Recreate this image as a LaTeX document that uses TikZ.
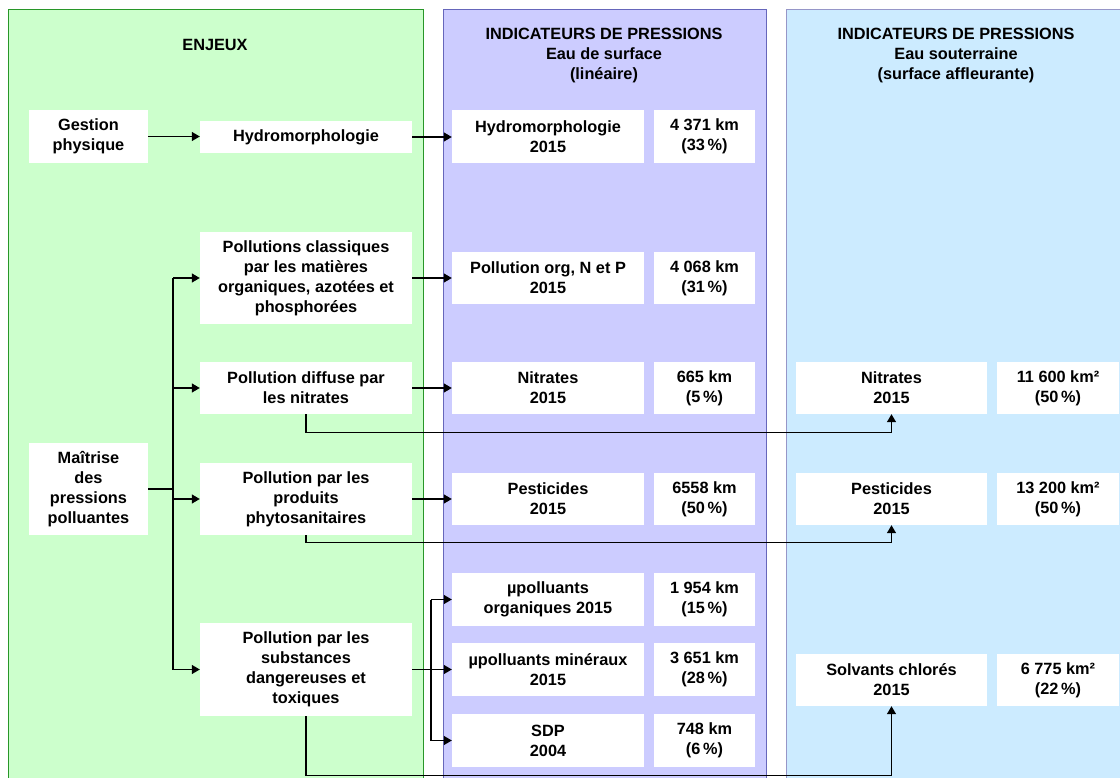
\documentclass[tikz,border=0pt]{standalone}
\usepackage{fontspec}
\setmainfont{Liberation Sans}
\usetikzlibrary{arrows.meta}
\definecolor{gfill}{RGB}{204,255,204}
\definecolor{gline}{RGB}{40,150,40}
\definecolor{pfill}{RGB}{204,204,255}
\definecolor{pline}{RGB}{102,102,187}
\definecolor{bfill}{RGB}{204,235,255}
\definecolor{bline}{RGB}{150,150,200}
\begin{document}
\begin{tikzpicture}[x=1pt,y=-1pt,
  font=\bfseries\fontsize{16.3}{20}\selectfont,
  box/.style 2 args={fill=white,draw=none,inner sep=0pt,align=center,minimum width=#1,minimum height=#2},
  panelG/.style={fill=gfill,draw=gline,line width=1pt},
  panelP/.style={fill=pfill,draw=pline,line width=1pt},
  panelB/.style={fill=bfill,draw=bline,line width=1pt},
  conn/.style={draw=black,line width=1.3pt},
  arr/.style={conn,-{Triangle[length=8pt,width=9pt]}},
  hdr/.style={align=center,inner sep=0pt}]
\useasboundingbox (0,0) rectangle (1120,778);
\clip (0,0) rectangle (1120,778);
\fill[white] (0,0) rectangle (1120,778);
% panels
\path[panelG] (8,10) rectangle (423,800);
\path[panelP] (443,10) rectangle (766,800);
\path[panelB] (786,10) rectangle (1140,800);
% headers
\node[hdr] (hE) at (215,45) {ENJEUX};
\node[hdr] (hP) at (604,56) {INDICATEURS DE PRESSIONS\\Eau de surface\\(linéaire)};
\node[hdr] (hB) at (956,56) {INDICATEURS DE PRESSIONS\\Eau souterraine\\(surface affleurante)};
% enjeux column
\node[box={119}{53}] (gest) at (88.5,136.5) {Gestion\\physique};
\node[box={119}{92}] (mait) at (88.5,489) {Maîtrise\\des\\pressions\\polluantes};
\node[box={212}{32}] (hydE) at (306,137) {Hydromorphologie};
\node[box={212}{92}] (class) at (306,278) {Pollutions classiques\\par les matières\\organiques, azotées et\\phosphorées};
\node[box={212}{52}] (diff) at (306,388) {Pollution diffuse par\\les nitrates};
\node[box={212}{72}] (prod) at (306,499) {Pollution par les\\produits\\phytosanitaires};
\node[box={212}{93}] (subst) at (306,669.5) {Pollution par les\\substances\\dangereuses et\\toxiques};
% surface water column
\node[box={192}{53}] (hydS) at (548,136.5) {Hydromorphologie\\2015};
\node[box={101}{53}] (hydV) at (704.5,136.5) {4 371 km\\(33\,\%)};
\node[box={192}{52}] (org) at (548,278) {Pollution org, N et P\\2015};
\node[box={101}{52}] (orgV) at (704.5,278) {4 068 km\\(31\,\%)};
\node[box={192}{52}] (nitS) at (548,388) {Nitrates\\2015};
\node[box={101}{52}] (nitV) at (704.5,388) {665 km\\(5\,\%)};
\node[box={192}{52}] (pestS) at (548,499) {Pesticides\\2015};
\node[box={101}{52}] (pestV) at (704.5,499) {6558 km\\(50\,\%)};
\node[box={192}{53}] (mOrg) at (548,599.5) {µpolluants\\organiques 2015};
\node[box={101}{53}] (mOrgV) at (704.5,599.5) {1 954 km\\(15\,\%)};
\node[box={192}{53}] (mMin) at (548,669.5) {µpolluants minéraux\\2015};
\node[box={101}{53}] (mMinV) at (704.5,669.5) {3 651 km\\(28\,\%)};
\node[box={192}{53}] (sdp) at (548,740.5) {SDP\\2004};
\node[box={101}{53}] (sdpV) at (704.5,740.5) {748 km\\(6\,\%)};
% ground water column
\node[box={191}{52}] (nitG) at (891.5,388) {Nitrates\\2015};
\node[box={122}{52}] (nitGV) at (1058,388) {11 600 km²\\(50\,\%)};
\node[box={191}{52}] (pestG) at (891.5,499) {Pesticides\\2015};
\node[box={122}{52}] (pestGV) at (1058,499) {13 200 km²\\(50\,\%)};
\node[box={191}{52}] (solv) at (891.5,680) {Solvants chlorés\\2015};
\node[box={122}{52}] (solvV) at (1058,680) {6 775 km²\\(22\,\%)};
% bus coordinates
\coordinate (busE) at (173,0);
\coordinate (busM) at (431,0);
% connectors
\draw[arr] (gest.east) -- (gest.east -| hydE.west);
\draw[arr] (hydE.east) -- (hydE.east -| hydS.west);
\draw[conn] (mait.east) -- (mait.east -| busE);
\draw[conn] (busE |- class.west) -- (busE |- subst.west);
\draw[arr] (busE |- class.west) -- (class.west);
\draw[arr] (busE |- diff.west) -- (diff.west);
\draw[arr] (busE |- prod.west) -- (prod.west);
\draw[arr] (busE |- subst.west) -- (subst.west);
\draw[arr] (class.east) -- (class.east -| org.west);
\draw[arr] (diff.east) -- (diff.east -| nitS.west);
\draw[arr] (prod.east) -- (prod.east -| pestS.west);
\draw[arr] (subst.east) -- (subst.east -| mMin.west);
\draw[conn] (busM |- mOrg.west) -- (busM |- sdp.west);
\draw[arr] (busM |- mOrg.west) -- (mOrg.west);
\draw[arr] (busM |- sdp.west) -- (sdp.west);
\draw[arr] (diff.south) -- ++(0,18) -| (nitG.south);
\draw[arr] (prod.south) -- ++(0,7) -| (pestG.south);
\draw[arr] (subst.south) -- ++(0,59.5) -| (solv.south);
\end{tikzpicture}
\end{document}
